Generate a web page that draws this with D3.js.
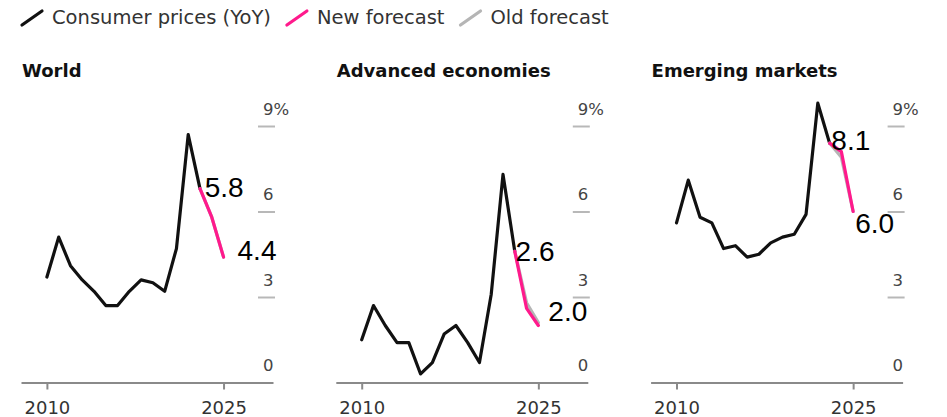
<!DOCTYPE html>
<html>
<head>
<meta charset="utf-8">
<script src="https://cdn.jsdelivr.net/npm/d3@7"></script>
<style>
  html, body { margin: 0; padding: 0; background: #fff; }
  svg { display: block; }
</style>
</head>
<body>
<svg id="chart" width="947" height="417"></svg>
<script>
// Annual consumer price inflation (YoY, %) with IMF forecasts
const years = [2010, 2011, 2012, 2013, 2014, 2015, 2016, 2017, 2018, 2019, 2020, 2021, 2022, 2023];
const forecastYears = [2023, 2024, 2025];

const worldCPI = [3.7, 5.1, 4.1, 3.6, 3.2, 2.7, 2.7, 3.2, 3.6, 3.5, 3.2, 4.7, 8.7, 6.8];
const worldNew = [6.8, 5.8, 4.4];
const worldOld = [6.8, 5.8, 4.4];

const advancedCPI = [1.5, 2.7, 2.0, 1.4, 1.4, 0.3, 0.7, 1.7, 2.0, 1.4, 0.7, 3.1, 7.3, 4.6];
const advancedNew = [4.6, 2.6, 2.0];
const advancedOld = [4.6, 2.8, 2.1];

const emergingCPI = [5.6, 7.1, 5.8, 5.6, 4.7, 4.8, 4.4, 4.5, 4.9, 5.1, 5.2, 5.9, 9.8, 8.4];
const emergingNew = [8.4, 8.1, 6.0];
const emergingOld = [8.4, 7.9, 6.0];

const panelTitles = ["World", "Advanced economies", "Emerging markets"];
const yTicks = [0, 3, 6, 9];
const xTicks = [2010, 2025];
const legendLabels = ["Consumer prices (YoY)", "New forecast", "Old forecast"];

// value labels: [forecast index, text]
const worldLabels = [[1, "5.8"], [2, "4.4"]];
const advancedLabels = [[1, "2.6"], [2, "2.0"]];
const emergingLabels = [[1, "8.1"], [2, "6.0"]];

// presentation settings
const colors = { actual: "#111111", fresh: "#ff1a8c", old: "#b5b5b5", text: "#333333" };
const labelOffsets = [
  [[-7, -20], [14, 3]],
  [[-11, -47], [10, -5]],
  [[-10, -2], [2, 21]]
];

const panels = [
  { title: panelTitles[0], actual: worldCPI, fresh: worldNew, old: worldOld, labels: worldLabels },
  { title: panelTitles[1], actual: advancedCPI, fresh: advancedNew, old: advancedOld, labels: advancedLabels },
  { title: panelTitles[2], actual: emergingCPI, fresh: emergingNew, old: emergingOld, labels: emergingLabels }
];

const svg = d3.select("#chart");
const sans = "'DejaVu Sans', sans-serif";

// ---- legend ----
const legend = svg.append("g");
const legendColors = [colors.actual, colors.fresh, colors.old];
let lx = 22;
legendLabels.forEach((lab, i) => {
  legend.append("line")
    .attr("x1", lx).attr("y1", 25).attr("x2", lx + 20).attr("y2", 11)
    .attr("stroke", legendColors[i]).attr("stroke-width", 3.2).attr("stroke-linecap", "round");
  const t = legend.append("text")
    .attr("x", lx + 30).attr("y", 24)
    .attr("font-family", sans).attr("font-size", 19.5)
    .attr("fill", colors.text)
    .text(lab);
  lx = lx + 30 + t.node().getComputedTextLength() + 16;
});

// ---- panels ----
const y = d3.scaleLinear().domain([0, 9]).range([382.5, 126]);

panels.forEach((p, i) => {
  const ox = 21 + 314.8 * i;
  const x = d3.scaleLinear().domain([2007.8, 2029.2]).range([ox, ox + 252]);
  const g = svg.append("g");

  g.append("text")
    .attr("x", ox + 1).attr("y", 77)
    .attr("font-family", sans).attr("font-weight", "bold").attr("font-size", 18)
    .attr("fill", "#111")
    .text(p.title);

  // y axis: short dashes with labels sitting above them
  const yAxis = g.append("g")
    .attr("transform", `translate(${ox + 237},0)`)
    .call(d3.axisRight(y).tickValues(yTicks).tickSize(17)
      .tickFormat(d => d === 9 ? d + "%" : d));
  yAxis.select(".domain").remove();
  yAxis.selectAll(".tick line")
    .attr("stroke", "#b8b8b8").attr("stroke-width", 2)
    .attr("opacity", d => d === 0 ? 0 : 1);
  yAxis.selectAll(".tick text")
    .attr("x", 5).attr("y", -12).attr("dy", 0)
    .attr("text-anchor", "start")
    .attr("font-family", sans).attr("font-size", 16.5)
    .attr("fill", "#444");

  // x axis
  const xAxis = g.append("g")
    .attr("transform", "translate(0,382.5)")
    .call(d3.axisBottom(x).tickValues(xTicks).tickSize(7).tickSizeOuter(0)
      .tickFormat(d3.format("d")));
  xAxis.select(".domain").attr("stroke", "#8a8a8a").attr("stroke-width", 2);
  xAxis.selectAll(".tick line").attr("stroke", "#8a8a8a").attr("stroke-width", 2);
  xAxis.selectAll(".tick text")
    .attr("y", 19).attr("dy", "0.71em")
    .attr("font-family", sans).attr("font-size", 18)
    .attr("fill", colors.text);

  const line = d3.line().x(d => x(d[0])).y(d => y(d[1]));
  const styleLine = (sel, c) => sel.attr("fill", "none").attr("stroke", c)
    .attr("stroke-width", 3.2).attr("stroke-linejoin", "round").attr("stroke-linecap", "round");

  g.append("path").datum(years.map((yr, k) => [yr, p.actual[k]]))
    .attr("d", line).call(styleLine, colors.actual);
  g.append("path").datum(forecastYears.map((yr, k) => [yr, p.old[k]]))
    .attr("d", line).call(styleLine, colors.old);
  g.append("path").datum(forecastYears.map((yr, k) => [yr, p.fresh[k]]))
    .attr("d", line).call(styleLine, colors.fresh);

  p.labels.forEach(([k, txt], j) => {
    const off = labelOffsets[i][j];
    g.append("text")
      .attr("x", x(forecastYears[k]) + off[0])
      .attr("y", y(p.fresh[k]) + off[1])
      .attr("font-family", "'Liberation Sans', Arial, sans-serif")
      .attr("font-size", 28)
      .attr("fill", "#000")
      .text(txt);
  });
});
</script>
</body>
</html>
